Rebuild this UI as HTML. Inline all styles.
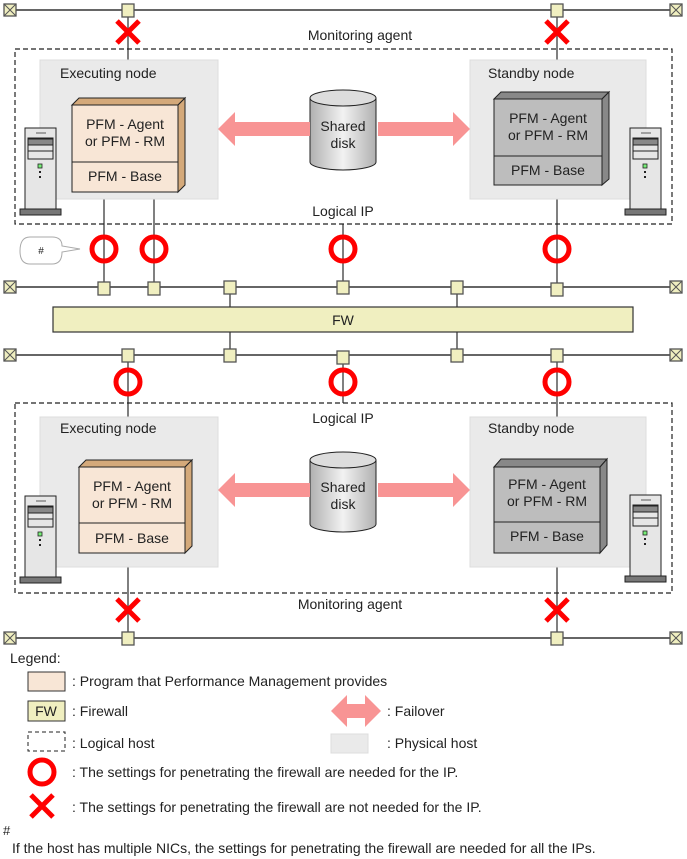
<!DOCTYPE html>
<html><head><meta charset="utf-8"><style>
body{margin:0;background:#fff}
svg{display:block}
text{font-family:"Liberation Sans",Arial,sans-serif;fill:#222}
</style></head><body>
<svg width="687" height="859" viewBox="0 0 687 859" xmlns="http://www.w3.org/2000/svg">
<defs>
<linearGradient id="cyl" x1="0" x2="1" y1="0" y2="0">
<stop offset="0" stop-color="#b0b0b0"/><stop offset="0.5" stop-color="#f2f2f2"/><stop offset="1" stop-color="#b0b0b0"/>
</linearGradient>
<g id="nb"><rect x="-6" y="-6" width="12" height="13" fill="#f0efc0" stroke="#555" stroke-width="1.3"/></g>
<g id="eb"><rect x="-6" y="-6" width="12" height="12" fill="#f0efc0" stroke="#555" stroke-width="1.3"/><path d="M-6 -6L6 6M6 -6L-6 6" stroke="#555" stroke-width="1"/></g>
<g id="xm"><path d="M-11 -11L11 11M11 -11L-11 11" stroke="#f00" stroke-width="5"/></g>
<g id="om"><circle r="12" fill="none" stroke="#f00" stroke-width="5"/></g>
<g id="srv">
<rect x="0" y="0" width="31" height="82" fill="#e6e6e6" stroke="#222" stroke-width="1"/>
<line x1="11" y1="5" x2="21" y2="5" stroke="#888" stroke-width="1.5"/>
<rect x="3" y="11" width="25" height="6" fill="#888" stroke="#222" stroke-width="1"/>
<rect x="3" y="10" width="25" height="13" fill="none" stroke="#222" stroke-width="1"/>
<rect x="3" y="23" width="25" height="8" fill="none" stroke="#222" stroke-width="1"/>
<rect x="13" y="36" width="4" height="4" fill="#7e7" stroke="#222" stroke-width="0.8"/>
<rect x="14" y="43" width="2" height="2" fill="#222"/>
<rect x="14" y="48" width="2" height="2" fill="#222"/>
<rect x="-5" y="81" width="41" height="6" fill="#777" stroke="#222" stroke-width="1"/>
</g>
<g id="disk">
<path d="M0 8 V72 A33 8 0 0 0 66 72 V8" fill="url(#cyl)" stroke="#222" stroke-width="1"/>
<ellipse cx="33" cy="8" rx="33" ry="8" fill="#ddd" stroke="#222" stroke-width="1"/>
</g>
<g id="arr">
<path d="M0 0 L17 -17 L17 -7 L92 -7 L92 7 L17 7 L17 17 Z" fill="#f89494"/>
</g>
</defs>

<g stroke="#333" stroke-width="1.5">
<line x1="10" y1="10" x2="676" y2="10"/>
<line x1="10" y1="287" x2="676" y2="287"/>
<line x1="10" y1="355" x2="676" y2="355"/>
<line x1="10" y1="638" x2="676" y2="638"/>
</g>
<g stroke="#555" stroke-width="1.5">
<line x1="128" y1="10" x2="128" y2="60"/>
<line x1="557" y1="10" x2="557" y2="60"/>
<line x1="104" y1="199" x2="104" y2="287"/>
<line x1="154" y1="199" x2="154" y2="287"/>
<line x1="343" y1="224" x2="343" y2="287"/>
<line x1="557" y1="199" x2="557" y2="287"/>
<line x1="230" y1="287" x2="230" y2="355"/>
<line x1="457" y1="287" x2="457" y2="355"/>
<line x1="128" y1="355" x2="128" y2="417"/>
<line x1="343" y1="355" x2="343" y2="403"/>
<line x1="557" y1="355" x2="557" y2="417"/>
<line x1="128" y1="567" x2="128" y2="638"/>
<line x1="557" y1="567" x2="557" y2="638"/>
</g>

<rect x="53" y="307" width="580" height="25" fill="#f0efc0" stroke="#333" stroke-width="1.2"/>
<text x="343" y="325" font-size="14" text-anchor="middle">FW</text>

<rect x="15" y="49" width="657" height="175" fill="none" stroke="#222" stroke-width="1.2" stroke-dasharray="5,3"/>
<text x="360" y="40" font-size="14" text-anchor="middle">Monitoring agent</text>
<text x="343" y="216" font-size="14" text-anchor="middle">Logical IP</text>
<rect x="40" y="60" width="178" height="139" fill="#eaeaea" stroke="#ddd"/>
<text x="60" y="78" font-size="14">Executing node</text>
<rect x="470" y="60" width="176" height="139" fill="#eaeaea" stroke="#ddd"/>
<text x="488" y="78" font-size="14">Standby node</text>

<path d="M72 105 L79 98 L185 98 L178 105 Z" fill="#d4a97a" stroke="#222"/>
<path d="M178 105 L185 98 L185 185 L178 192 Z" fill="#d4a97a" stroke="#222"/>
<rect x="72" y="105" width="106" height="87" fill="#f8e6d6" stroke="#222"/>
<line x1="72" y1="162" x2="178" y2="162" stroke="#222"/>
<text x="125" y="129" font-size="14" text-anchor="middle">PFM - Agent</text>
<text x="125" y="146" font-size="14" text-anchor="middle">or PFM - RM</text>
<text x="125" y="181" font-size="14" text-anchor="middle">PFM - Base</text>

<path d="M494 99 L501 92 L609 92 L602 99 Z" fill="#888" stroke="#222"/>
<path d="M602 99 L609 92 L609 179 L602 185 Z" fill="#888" stroke="#222"/>
<rect x="494" y="99" width="108" height="86" fill="#bdbdbd" stroke="#222"/>
<line x1="494" y1="156" x2="602" y2="156" stroke="#222"/>
<text x="548" y="123" font-size="14" text-anchor="middle">PFM - Agent</text>
<text x="548" y="140" font-size="14" text-anchor="middle">or PFM - RM</text>
<text x="548" y="175" font-size="14" text-anchor="middle">PFM - Base</text>

<use href="#srv" x="25" y="128"/>
<use href="#srv" x="630" y="128"/>
<use href="#disk" x="310" y="90"/>
<text x="343" y="131" font-size="14" text-anchor="middle">Shared</text>
<text x="343" y="148" font-size="14" text-anchor="middle">disk</text>
<use href="#arr" x="218" y="129"/>
<use href="#arr" transform="translate(470,129) scale(-1,1)"/>

<path d="M30 237 H52 Q62 237 62 246 L80 249 L62 252 Q62 264 52 264 H30 Q20 264 20 251 Q20 237 30 237 Z" fill="#fff" stroke="#aaa"/>
<text x="41" y="254" font-size="10" text-anchor="middle">#</text>

<rect x="15" y="403" width="657" height="190" fill="none" stroke="#222" stroke-width="1.2" stroke-dasharray="5,3"/>
<text x="343" y="423" font-size="14" text-anchor="middle">Logical IP</text>
<text x="350" y="609" font-size="14" text-anchor="middle">Monitoring agent</text>
<rect x="40" y="417" width="178" height="150" fill="#eaeaea" stroke="#ddd"/>
<text x="60" y="433" font-size="14">Executing node</text>
<rect x="470" y="417" width="176" height="150" fill="#eaeaea" stroke="#ddd"/>
<text x="488" y="433" font-size="14">Standby node</text>

<path d="M79 467 L86 460 L192 460 L185 467 Z" fill="#d4a97a" stroke="#222"/>
<path d="M185 467 L192 460 L192 546 L185 553 Z" fill="#d4a97a" stroke="#222"/>
<rect x="79" y="467" width="106" height="86" fill="#f8e6d6" stroke="#222"/>
<line x1="79" y1="523" x2="185" y2="523" stroke="#222"/>
<text x="132" y="491" font-size="14" text-anchor="middle">PFM - Agent</text>
<text x="132" y="508" font-size="14" text-anchor="middle">or PFM - RM</text>
<text x="132" y="543" font-size="14" text-anchor="middle">PFM - Base</text>

<path d="M494 467 L501 459 L607 459 L600 467 Z" fill="#888" stroke="#222"/>
<path d="M600 467 L607 459 L607 545 L600 553 Z" fill="#888" stroke="#222"/>
<rect x="494" y="467" width="106" height="86" fill="#bdbdbd" stroke="#222"/>
<line x1="494" y1="522" x2="600" y2="522" stroke="#222"/>
<text x="547" y="489" font-size="14" text-anchor="middle">PFM - Agent</text>
<text x="547" y="506" font-size="14" text-anchor="middle">or PFM - RM</text>
<text x="547" y="541" font-size="14" text-anchor="middle">PFM - Base</text>

<use href="#srv" x="25" y="496"/>
<use href="#srv" x="630" y="495"/>
<use href="#disk" x="310" y="452"/>
<text x="343" y="492" font-size="14" text-anchor="middle">Shared</text>
<text x="343" y="509" font-size="14" text-anchor="middle">disk</text>
<use href="#arr" x="218" y="490"/>
<use href="#arr" transform="translate(470,490) scale(-1,1)"/>

<use href="#xm" x="128" y="32"/>
<use href="#xm" x="557" y="32"/>
<use href="#xm" x="128" y="610"/>
<use href="#xm" x="557" y="610"/>
<use href="#om" x="104" y="249"/>
<use href="#om" x="154" y="249"/>
<use href="#om" x="343" y="249"/>
<use href="#om" x="557" y="249"/>
<use href="#om" x="128" y="382"/>
<use href="#om" x="343" y="382"/>
<use href="#om" x="557" y="382"/>

<use href="#eb" x="10" y="10"/><use href="#eb" x="676" y="10"/>
<use href="#eb" x="10" y="287"/><use href="#eb" x="676" y="287"/>
<use href="#eb" x="10" y="355"/><use href="#eb" x="676" y="355"/>
<use href="#eb" x="10" y="638"/><use href="#eb" x="676" y="638"/>
<use href="#nb" x="128" y="10"/><use href="#nb" x="557" y="10"/>
<use href="#nb" x="104" y="288"/><use href="#nb" x="154" y="288"/><use href="#nb" x="230" y="287"/>
<use href="#nb" x="343" y="287"/><use href="#nb" x="457" y="287"/><use href="#nb" x="557" y="289"/>
<use href="#nb" x="128" y="355"/><use href="#nb" x="230" y="355"/><use href="#nb" x="343" y="357"/>
<use href="#nb" x="457" y="355"/><use href="#nb" x="557" y="355"/>
<use href="#nb" x="128" y="638"/><use href="#nb" x="557" y="638"/>

<text x="10" y="663" font-size="14">Legend:</text>
<rect x="28" y="672" width="37" height="19" fill="#f8e6d6" stroke="#333"/>
<text x="72" y="686" font-size="14">: Program that Performance Management provides</text>
<rect x="28" y="701" width="37" height="20" fill="#f0efc0" stroke="#333"/>
<text x="46" y="716" font-size="14" text-anchor="middle">FW</text>
<text x="72" y="716" font-size="14">: Firewall</text>
<path d="M331 711 L347 695 L347 704 L365 704 L365 695 L381 711 L365 727 L365 718 L347 718 L347 727 Z" fill="#f89494"/>
<text x="387" y="716" font-size="14">: Failover</text>
<rect x="28" y="732" width="37" height="19" fill="none" stroke="#222" stroke-dasharray="4,3"/>
<text x="72" y="748" font-size="14">: Logical host</text>
<rect x="331" y="734" width="37" height="19" fill="#eaeaea" stroke="#ddd"/>
<text x="387" y="748" font-size="14">: Physical host</text>
<use href="#om" x="42" y="772"/>
<text x="72" y="777" font-size="14">: The settings for penetrating the firewall are needed for the IP.</text>
<use href="#xm" x="42" y="806"/>
<text x="72" y="812" font-size="14">: The settings for penetrating the firewall are not needed for the IP.</text>
<text x="3" y="835" font-size="13">#</text>
<text x="12" y="853" font-size="14">If the host has multiple NICs, the settings for penetrating the firewall are needed for all the IPs.</text>
</svg>
</body></html>
